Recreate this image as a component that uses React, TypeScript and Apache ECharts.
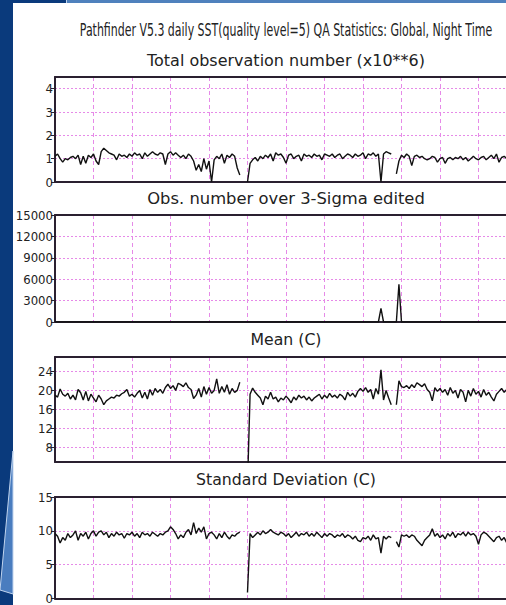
import React, { useEffect, useRef } from "react";
import * as echarts from "echarts";

const MAIN_TITLE = "Pathfinder V5.3 daily SST(quality level=5) QA Statistics: Global, Night Time";
const PANEL_TITLES = [
  "Total observation number (x10**6)",
  "Obs. number over 3-Sigma edited",
  "Mean (C)",
  "Standard Deviation (C)",
];

// day index (two-day steps), 15 steps per grid interval
const days: string[] = [];
for (let i = 0; i <= 180; i++) days.push("D" + i);

const totalObs = [
  1.1, 1.2, 1.0, 0.85, 1.0, 0.95, 1.05, 1.1, 1.0, 1.15,
  0.75, 1.1, 0.8, 1.15, 1.05, 1.2, 0.9, 0.75, 1.3, 1.45,
  1.35, 1.25, 1.2, 1.15, 0.95, 1.2, 1.1, 1.15, 1.05, 1.2,
  1.1, 1.25, 1.15, 1.2, 1.0, 1.25, 1.1, 1.2, 1.3, 1.2,
  1.15, 1.25, 1.2, 0.75, 1.2, 1.3, 1.15, 1.25, 1.15, 1.05,
  1.15, 1.0, 1.2, 1.1, 0.9, 0.5, 0.75, 0.45, 1.0, 0.55,
  0.9, 0.0, 0.95, 1.1, 1.0, 1.2, 0.8, 1.15, 1.05, 1.2,
  1.1, 0.6, 0.3, null, null, 0.0, 0.8, 0.95, 1.05, 0.9,
  1.1, 1.0, 1.15, 1.05, 1.2, 0.9, 1.25, 1.15, 1.2, 1.05,
  0.8, 1.15, 1.2, 1.0, 1.1, 1.15, 0.9, 1.2, 1.1, 1.15,
  1.05, 1.2, 1.1, 1.15, 0.95, 1.2, 1.15, 1.1, 1.2, 1.05,
  1.15, 1.2, 1.0, 1.1, 1.2, 1.15, 1.05, 1.2, 1.1, 1.15,
  1.25, 1.0, 1.2, 1.15, 1.25, 1.1, 1.2, 0.0, 1.2, 1.3,
  1.25, 1.2, null, 0.35, 0.9, 1.15, 1.05, 1.2, 1.1, 0.7,
  1.1, 1.15, 1.05, 1.1, 1.0, 0.95, 1.0, 1.1, 1.05, 0.85,
  1.0, 1.05, 0.8, 1.0, 1.05, 0.95, 1.05, 1.0, 1.1, 0.95,
  1.05, 0.9, 1.0, 1.1, 1.0, 0.95, 1.05, 1.1, 0.95, 1.05,
  1.15, 1.0, 1.2, 0.85, 1.05, 1.1, 1.0, 1.05, 1.1, 1.0, 1.05,
];

const sigmaEdited = [
  0, 0, 0, 0, 0, 0, 0, 0, 0, 0,
  0, 0, 0, 0, 0, 0, 0, 0, 0, 0,
  0, 0, 0, 0, 0, 0, 0, 0, 0, 0,
  0, 0, 0, 0, 0, 0, 0, 0, 0, 0,
  0, 0, 0, 0, 0, 0, 0, 0, 0, 0,
  0, 0, 0, 0, 0, 0, 0, 0, 0, 0,
  0, 0, 0, 0, 0, 0, 0, 0, 0, 0,
  0, 0, 0, 0, 0, 0, 0, 0, 0, 0,
  0, 0, 0, 0, 0, 0, 0, 0, 0, 0,
  0, 0, 0, 0, 0, 0, 0, 0, 0, 0,
  0, 0, 0, 0, 0, 0, 0, 0, 0, 0,
  0, 0, 0, 0, 0, 0, 0, 0, 0, 0,
  0, 0, 0, 0, 0, 0, 0, 1900, 0, 0,
  0, 0, 0, 0, 5300, 0, 0, 0, 0, 0,
  0, 0, 0, 0, 0, 0, 0, 0, 0, 0,
  0, 0, 0, 0, 0, 0, 0, 0, 0, 0,
  0, 0, 0, 0, 0, 0, 0, 0, 0, 0,
  0, 0, 0, 0, 0, 0, 0, 0, 0, 0, 0,
];

const meanSST = [
  19.0, 18.6, 20.3, 19.2, 18.8, 19.4, 18.2, 19.0, 18.0, 20.2,
  19.5, 18.0, 19.8, 17.8, 19.2, 18.4, 17.6, 19.0, 18.2, 17.0,
  17.8, 18.2, 18.6, 18.4, 19.0, 18.8, 19.3, 19.6, 20.2, 18.8,
  19.2, 18.6, 19.4, 20.0, 18.4, 19.6, 18.2, 20.2, 19.0, 20.4,
  19.6, 20.2, 19.4, 20.6, 21.3, 20.4, 21.0, 20.0, 21.5, 21.2,
  20.8, 21.6, 20.6, 20.2, 18.3, 19.0, 20.4, 18.6, 20.8, 19.2,
  20.6, 19.4, 20.0, 22.4, 19.4, 20.8, 19.6, 21.2, 19.2, 20.4,
  19.6, 20.0, 21.7, null, null, 0, 19.2, 20.5, 19.6, 19.0,
  18.4, 17.0, 18.8, 18.2, 19.6, 18.2, 18.6, 17.6, 18.4, 18.0,
  18.8, 18.2, 17.4, 18.6, 18.0, 19.0, 18.4, 18.8, 18.0, 18.6,
  17.8, 18.4, 18.8, 19.2, 18.2, 19.0, 18.4, 19.4, 18.6, 19.0,
  18.4, 19.2, 18.8, 18.0, 19.6, 18.8, 19.4, 18.6, 19.8, 20.4,
  19.8, 20.6, 19.6, 20.2, 18.2, 20.4, 19.2, 24.3, 18.0, 20.0,
  18.4, 17.0, null, 17.0, 22.0, 20.8, 20.6, 21.0, 20.4, 21.2,
  20.6, 21.6, 21.2, 20.8, 21.4, 20.2, 19.6, 17.8, 20.6, 19.8,
  20.4, 19.6, 20.2, 19.0, 20.6, 19.4, 20.0, 18.4, 20.2, 19.6,
  17.6, 20.0, 18.8, 20.4, 19.2, 19.8, 18.6, 20.2, 19.0, 19.6,
  18.6, 17.8, 19.2, 19.8, 20.4, 19.6, 20.2, 19.8, 20.4, 20.0, 19.6,
];

const stdSST = [
  9.6, 9.2, 8.2, 9.0, 8.6, 9.6, 9.0, 9.4, 10.0, 8.6,
  9.6, 9.2, 9.8, 8.8, 9.6, 10.0, 9.2, 9.8, 10.0, 9.4,
  9.8, 9.0, 9.6, 9.2, 9.8, 9.4, 9.6, 8.9, 9.6, 9.4,
  9.8, 9.2, 9.6, 9.0, 9.8, 9.4, 9.6, 9.2, 9.8, 9.5,
  9.2, 9.6, 9.4, 9.8, 10.0, 10.6, 10.2, 9.6, 8.8, 9.4,
  9.0, 9.8, 10.2, 9.4, 11.2, 9.6, 10.4, 9.8, 10.6, 8.8,
  9.6, 9.8, 9.4, 8.8, 9.6, 9.0, 9.8, 9.2, 8.8, 9.4,
  9.2, 9.6, 9.8, null, null, 0.9, 9.6, 9.0, 9.4, 9.8,
  9.4, 10.0, 9.6, 9.8, 10.2, 9.8, 9.6, 9.4, 9.8, 9.6,
  9.2, 9.6, 9.0, 9.4, 9.8, 9.2, 9.6, 9.4, 9.8, 9.2,
  9.6, 9.2, 9.8, 9.4, 9.0, 9.6, 9.2, 9.6, 9.4, 9.0,
  9.4, 9.2, 9.6, 9.0, 9.4, 9.2, 8.8, 9.2, 8.6, 8.4,
  9.0, 8.8, 9.2, 8.6, 9.4, 8.8, 9.0, 6.7, 9.2, 8.8,
  9.2, 9.0, null, 8.4, 7.6, 9.4, 9.2, 9.4, 9.0, 9.4,
  9.2, 8.6, 8.2, 7.8, 8.6, 9.0, 9.4, 10.3, 9.2, 9.6,
  9.0, 9.4, 8.8, 9.6, 9.2, 9.8, 9.0, 9.6, 9.4, 9.8,
  9.2, 9.8, 9.4, 9.6, 9.2, 8.0, 9.4, 9.8, 9.6, 9.2,
  8.8, 8.4, 9.0, 9.2, 8.6, 9.0, 8.2, 8.8, 9.0, 8.6, 9.0,
];

const totalTicks = [0, 1, 2, 3, 4];
const sigmaTicks = [0, 3000, 6000, 9000, 12000, 15000];
const meanTicks = [8, 12, 16, 20, 24];
const stdTicks = [0, 5, 10, 15];

const FRAME = "#2a2030";
const GRIDC = "#e68ae8";
const TEXT = "#222222";
const NARROW = "'Liberation Sans Narrow', 'DejaVu Sans Condensed', 'Arial Narrow', sans-serif";
const WIDE = "'DejaVu Sans', 'Noto Sans', sans-serif";

function measure(text: string, size: number, family: string): number {
  const c = document.createElement("canvas").getContext("2d");
  if (!c) return text.length * size * 0.5;
  c.font = `${size}px ${family}`;
  return c.measureText(text).width;
}

export default function App() {
  const ref = useRef<HTMLDivElement>(null);
  useEffect(() => {
    if (!ref.current) return;
    const chart = echarts.init(ref.current, undefined, { renderer: "svg" });

    const grids = [
      { left: 55, top: 77, width: 462, height: 105 },
      { left: 55, top: 215, width: 462, height: 107 },
      { left: 55, top: 357, width: 462, height: 105 },
      { left: 55, top: 497, width: 462, height: 104 },
    ];
    const yDefs = [
      { min: 0, max: 4.5, ticks: totalTicks },
      { min: 0, max: 15000, ticks: sigmaTicks },
      { min: 5, max: 27, ticks: meanTicks },
      { min: 0, max: 15, ticks: stdTicks },
    ];
    const seriesData = [totalObs, sigmaEdited, meanSST, stdSST];

    const xAxis: any[] = [];
    grids.forEach((_, g) => {
      xAxis.push({
        type: "category",
        gridIndex: g,
        data: days,
        boundaryGap: false,
        axisLine: { show: true, onZero: false, lineStyle: { color: FRAME, width: 2 } },
        axisTick: { show: false },
        axisLabel: { show: false },
        splitLine: {
          show: true,
          interval: (i: number) => i > 0 && i % 15 === 0,
          lineStyle: { color: GRIDC, type: [4, 3], width: 1 },
        },
      });
      xAxis.push({
        type: "value",
        gridIndex: g,
        position: "top",
        min: 0,
        max: 1,
        axisLine: { show: true, onZero: false, lineStyle: { color: FRAME, width: 2 } },
        axisTick: { show: false },
        axisLabel: { show: false },
        splitLine: { show: false },
      });
    });

    const yAxis = yDefs.map((d, g) => ({
      type: "value",
      gridIndex: g,
      min: d.min,
      max: d.max,
      axisLine: { show: true, onZero: false, lineStyle: { color: FRAME, width: 2 } },
      axisTick: { show: true, length: 4, customValues: d.ticks, lineStyle: { color: FRAME, width: 1 } },
      axisLabel: {
        customValues: d.ticks,
        formatter: (v: number) => String(v),
        color: TEXT,
        fontFamily: NARROW,
        fontSize: 13,
        margin: 2,
      },
      splitLine: { show: true, lineStyle: { color: GRIDC, type: [2, 2], width: 1 } },
    }));

    const series = seriesData.map((data, g) => ({
      type: "line",
      xAxisIndex: g * 2,
      yAxisIndex: g,
      data,
      symbol: "none",
      connectNulls: false,
      clip: true,
      lineStyle: { color: "#111111", width: 1.4 },
    }));

    const titleSize = 17;
    const titleScale = 413 / measure(MAIN_TITLE, titleSize, NARROW);
    const subSize = 15;
    const subTargets = [278, 278, 71, 180];
    const subY = [61, 199, 340, 480];

    const graphic: any[] = [
      { type: "rect", shape: { x: 0, y: 0, width: 13, height: 605 }, style: { fill: "#0a3a7c" }, silent: true },
      { type: "rect", shape: { x: 0, y: 0, width: 66, height: 3 }, style: { fill: "#0a3a7c" }, silent: true },
      { type: "rect", shape: { x: 66, y: 0, width: 1, height: 3 }, style: { fill: "#c0d4ee" }, silent: true },
      { type: "rect", shape: { x: 67, y: 0, width: 470, height: 3 }, style: { fill: "#4f81bd" }, silent: true },
      {
        type: "polygon",
        shape: { points: [[13, 451], [0, 590], [13, 594]] },
        style: { fill: "#4a7dbf", stroke: "#c0d4ee", lineWidth: 1 },
        silent: true,
      },
      {
        type: "text",
        x: 286,
        y: 30,
        scaleX: titleScale,
        style: {
          text: MAIN_TITLE,
          fontSize: titleSize,
          fontFamily: NARROW,
          fill: TEXT,
          align: "center",
          verticalAlign: "middle",
          textAlign: "center",
          textVerticalAlign: "middle",
        },
      },
    ];
    PANEL_TITLES.forEach((t, k) => {
      graphic.push({
        type: "text",
        x: 286,
        y: subY[k],
        scaleX: subTargets[k] / measure(t, subSize, WIDE),
        style: {
          text: t,
          fontSize: subSize,
          fontFamily: WIDE,
          fill: TEXT,
          align: "center",
          verticalAlign: "middle",
          textAlign: "center",
          textVerticalAlign: "middle",
        },
      });
    });

    chart.setOption({
      animation: false,
      backgroundColor: "#ffffff",
      grid: grids,
      xAxis,
      yAxis,
      series,
      graphic,
    });
    return () => chart.dispose();
  }, []);

  return (
    <div style={{ position: "absolute", left: 0, top: 0, width: 506, height: 605, overflow: "hidden" }}>
      <div ref={ref} style={{ width: 540, height: 605 }} />
    </div>
  );
}
